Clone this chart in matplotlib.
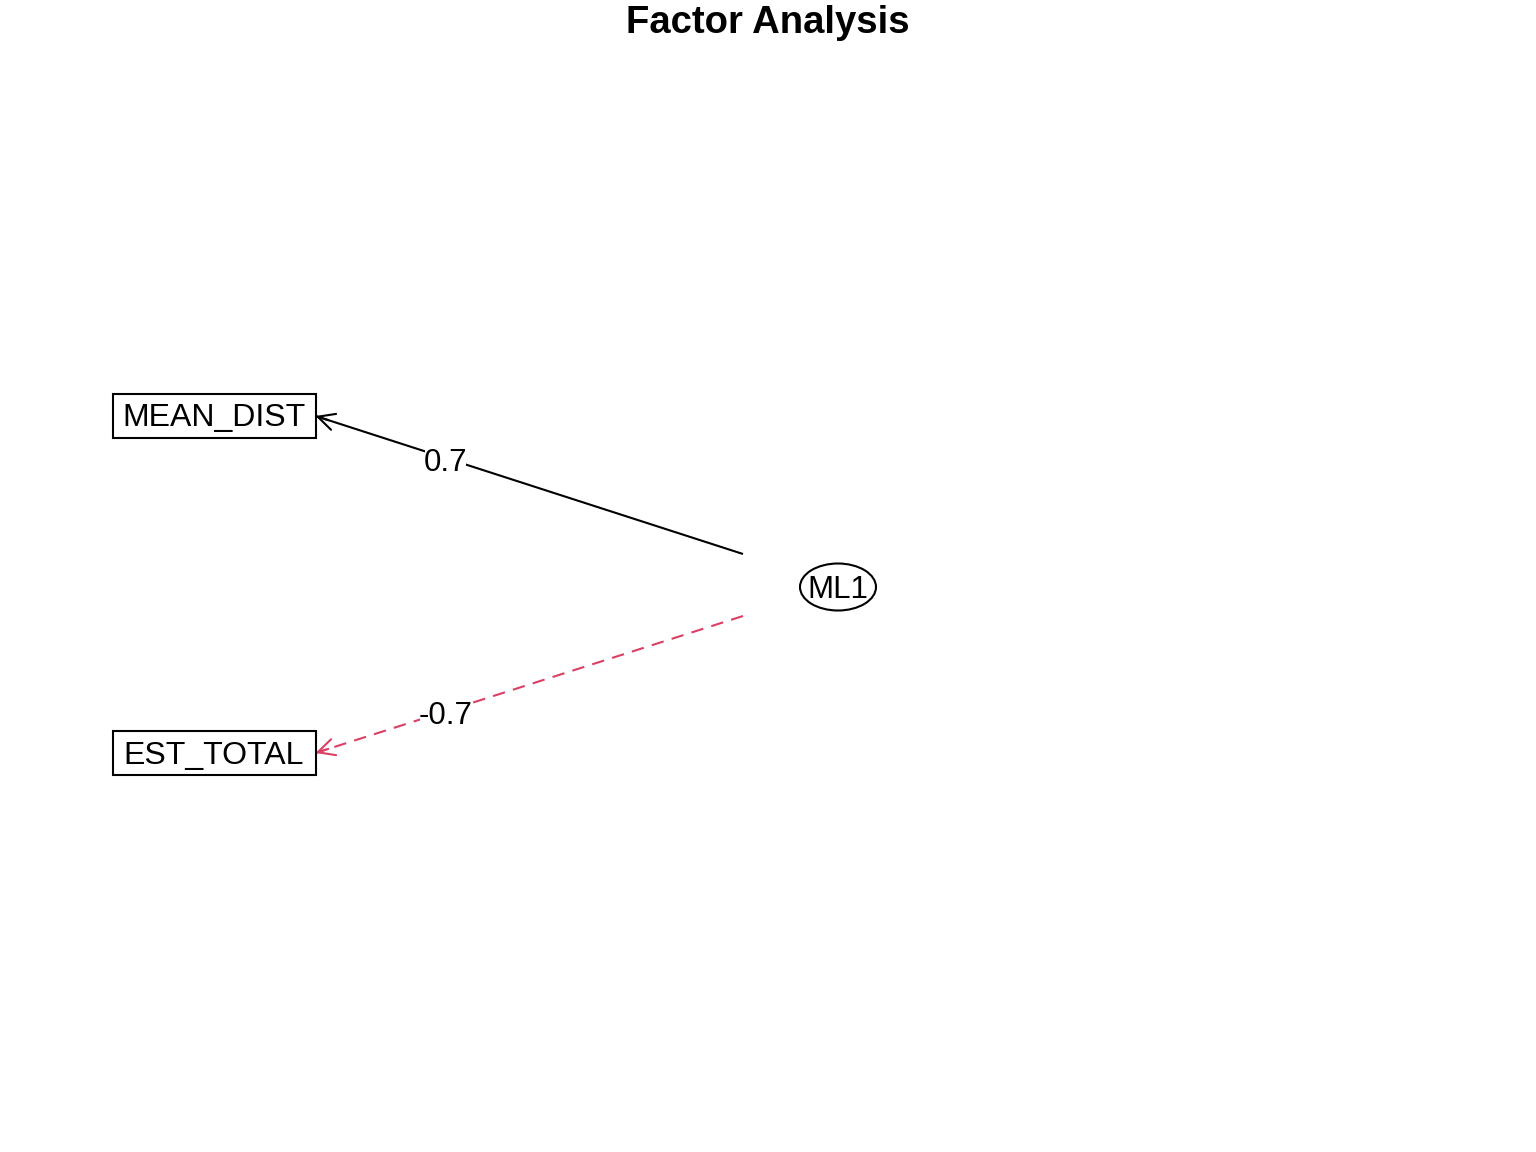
import matplotlib
matplotlib.use("Agg")
import matplotlib.pyplot as plt
from matplotlib.patches import Rectangle, Ellipse, FancyArrowPatch

# Data
variables = ["MEAN_DIST", "EST_TOTAL"]
loadings = [0.7, -0.7]
factor = "ML1"
title = "Factor Analysis"

# Layout (pixel-like coordinates)
W, H = 1536, 1152
var_x = 214
var_y = [416, 753]
box_w, box_h = 203, 44
fac_x, fac_y = 838, 587
fac_w, fac_h = 76, 47
line_start_x = 743
line_start_dy = [-33, 29]
label_frac = 0.695

fig = plt.figure(figsize=(15.36, 11.52), dpi=100)
ax = fig.add_axes([0, 0, 1, 1])
ax.set_xlim(0, W)
ax.set_ylim(H, 0)
ax.axis("off")

font = ["Liberation Sans", "DejaVu Sans"]
tdy = 2.5

ax.text(W / 2, 21 + 2, title, ha="center", va="center", fontsize=27.5,
        fontweight="bold", family=font)

for name, y in zip(variables, var_y):
    ax.add_patch(Rectangle((var_x - box_w / 2, y - box_h / 2), box_w, box_h,
                           fill=False, edgecolor="black", lw=1.5, zorder=2))
    ax.text(var_x, y + tdy, name, ha="center", va="center", fontsize=23, family=font, zorder=3)

ax.add_patch(Ellipse((fac_x, fac_y), fac_w, fac_h, fill=False,
                     edgecolor="black", lw=1.5))
ax.text(fac_x, fac_y + tdy, factor, ha="center", va="center", fontsize=22.5, family=font)

for y, ld, dy in zip(var_y, loadings, line_start_dy):
    color = "black" if ld >= 0 else "#DB4064"
    ls = "-" if ld >= 0 else (0, (6, 4))
    x0, y0 = line_start_x, fac_y + dy
    x1, y1 = var_x + box_w / 2, y
    ax.plot([x0, x1], [y0, y1], color=color, lw=1.5, linestyle=ls,
            solid_capstyle="butt", zorder=1)
    # solid arrow head on a short final segment
    hx = x1 + (x0 - x1) * 0.03
    hy = y1 + (y0 - y1) * 0.03
    head = FancyArrowPatch((hx, hy), (x1, y1),
                           arrowstyle="->,head_length=0.6,head_width=0.3",
                           mutation_scale=20, color=color, lw=1.5,
                           shrinkA=0, shrinkB=0, zorder=1)
    ax.add_patch(head)
    lx = x0 + (x1 - x0) * label_frac
    ly = y0 + (y1 - y0) * label_frac + 3
    ax.text(lx, ly + tdy - 1, f"{ld:g}", ha="center", va="center", fontsize=22.5,
            family=font, zorder=3,
            bbox=dict(facecolor="white", edgecolor="none", pad=-1))

fig.savefig("out.png", dpi=100)
